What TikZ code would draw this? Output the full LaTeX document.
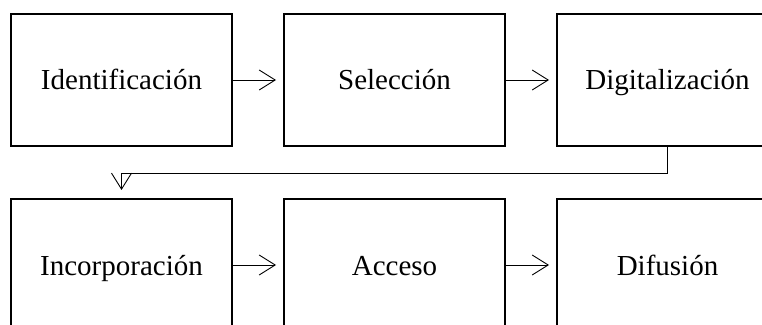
\documentclass[tikz,border=0pt]{standalone}
\usepackage{fontspec}
\setmainfont{Liberation Serif}
\usetikzlibrary{positioning,arrows.meta}
\begin{document}
\begin{tikzpicture}[x=1pt, y=1pt, node distance=51pt and 50pt,
    stage/.style={draw, line width=2pt, minimum width=221pt, minimum height=132pt,
      inner sep=0pt, text height=26pt, text depth=6pt, font=\fontsize{29}{34}\selectfont},
    flow/.style={-{Straight Barb[length=16pt, width=20pt]}, line width=0.9pt, shorten >=7pt}]
    \useasboundingbox (0, 0) rectangle (762, 324);
    \clip (0, 0) rectangle (762, 324);
    \node [stage] (ident) at (121.5, 244) {Identificación};
    \node [stage, right=of ident] (selec) {Selección};
    \node [stage, right=of selec] (digit) {Digitalización};
    \node [stage, below=of ident] (incorp) {Incorporación};
    \node [stage, right=of incorp] (acceso) {Acceso};
    \node [stage, right=of acceso] (difus) {Difusión};
    \draw [flow] (ident) -- (selec);
    \draw [flow] (selec) -- (digit);
    \draw [flow, shorten >=8pt] (digit.south) -- ++(0, -26) -| (incorp.north);
    \draw [flow] (incorp) -- (acceso);
    \draw [flow] (acceso) -- (difus);
\end{tikzpicture}
\end{document}
